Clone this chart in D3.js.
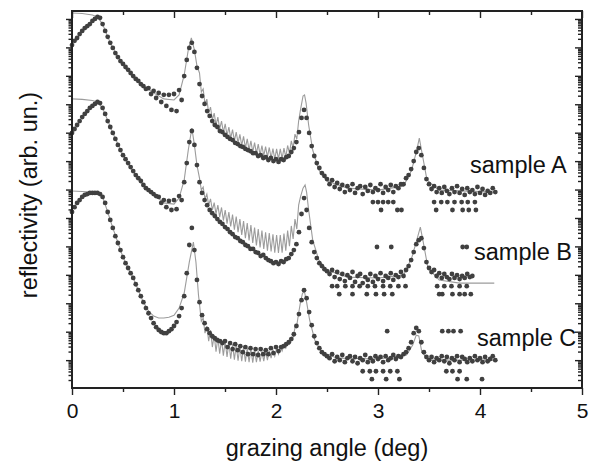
<!DOCTYPE html>
<html><head><meta charset="utf-8">
<script src="https://cdn.jsdelivr.net/npm/d3@7/dist/d3.min.js"></script>
<style>body{margin:0;background:#fff}svg{display:block}</style>
</head><body><svg id="chart" width="590" height="461"></svg>
<script>
// measured grazing angles (deg)
const angles = [0,.025,.05,.075,.1,.125,.15,.175,.2,.225,.25,.275,.3,.325,.35,.375,.4,.425,.45,.475,.5,.525,.55,.575,.6,.625,.65,.675,.7,.725,.75,.775,.8,.825,.85,.875,.9,.925,.95,.975,1,1.025,1.05,1.075,1.1,1.125,1.15,1.175,1.2,1.225,1.25,1.275,1.3,1.325,1.35,1.375,1.4,1.425,1.45,1.475,1.5,1.525,1.55,1.575,1.6,1.625,1.65,1.675,1.7,1.725,1.75,1.775,1.8,1.825,1.85,1.875,1.9,1.925,1.95,1.975,2,2.025,2.05,2.075,2.1,2.125,2.15,2.175,2.2,2.225,2.25,2.275,2.3,2.325,2.35,2.375,2.4,2.425,2.45,2.475,2.5,2.525,2.55,2.575,2.6,2.625,2.65,2.675,2.7,2.725,2.75,2.775,2.8,2.825,2.85,2.875,2.9,2.925,2.95,2.975,3,3.025,3.05,3.075,3.1,3.125,3.15,3.175,3.2,3.225,3.25,3.275,3.3,3.325,3.35,3.375,3.4,3.425,3.45,3.475,3.5,3.525,3.55,3.575,3.6,3.625,3.65,3.675,3.7,3.725,3.75,3.775,3.8,3.825,3.85,3.875,3.9,3.925,3.95,3.975,4,4.025,4.05,4.075,4.1,4.125,4.15];

// log10 reflectivity (offset curves, arb. un.)
const logRA = [-0.92,-0.77,-0.67,-0.53,-0.42,-0.32,-0.25,-0.18,-0.07,0,
0.07,0.04,-0.18,-0.42,-0.63,-0.84,-1.02,-1.20,-1.34,-1.48,
-1.58,-1.69,-1.79,-1.90,-2.01,-2.11,-2.18,-2.29,-2.36,-2.46,
-2.43,-2.64,-2.53,-2.78,-2.60,-2.92,-2.67,-3.06,-2.67,-3.20,
-2.64,-3.24,-2.50,-2.85,-2.01,-1.44,-1.02,-0.84,-1.16,-1.72,
-2.29,-2.71,-2.99,-3.24,-3.41,-3.59,-3.73,-3.80,-3.94,-3.98,
-4.08,-4.15,-4.22,-4.26,-4.36,-4.40,-4.47,-4.50,-4.57,-4.61,
-4.65,-4.72,-4.72,-4.82,-4.79,-4.89,-4.86,-4.96,-4.89,-5.00,
-4.93,-5.03,-4.93,-4.96,-4.86,-4.82,-4.68,-4.54,-4.33,-3.98,
-3.48,-3.20,-3.48,-4.01,-4.47,-4.82,-5.07,-5.24,-5.42,-5.52,
-5.63,
-5.81,-5.67,-5.91,-5.77,-5.98,-5.84,-6.09,-5.88,-6.02,-5.81,
-6.12,-5.95,-5.88,-6.16,-5.91,-6.05,-5.84,-6.09,-5.95,-6.02,
-5.81,-6.12,-5.91,-6.02,-5.84,-6.09,-5.88,-5.95,-5.81,-5.81,
-5.60,-5.49,-5.28,-5.00,-4.68,-4.54,-4.79,-5.24,-5.63,-5.81,
-5.98,-5.88,-6.09,-5.95,-6.12,-5.91,-6.05,-6.16,-5.95,-6.09,
-5.88,-6.12,-5.98,-6.19,-5.95,-6.09,-6.02,-6.16,-5.91,-6.12,
-5.98,-6.19,-6.05,-6.12,-5.95,-6.09];

const logRB = [-4.01,-3.87,-3.73,-3.59,-3.45,-3.34,-3.24,-3.13,-3.06,-2.99,
-2.92,-2.96,-3.13,-3.34,-3.59,-3.80,-4.01,-4.22,-4.43,-4.61,
-4.79,-4.93,-5.07,-5.21,-5.35,-5.49,-5.60,-5.70,-5.84,-5.95,
-6.02,-6.09,-6.16,-6.23,-6.26,-6.47,-6.37,-6.62,-6.40,-6.72,
-6.37,-6.69,-6.23,-6.37,-5.74,-5.07,-4.33,-3.94,-4.43,-5.14,
-5.74,-6.12,-6.37,-6.55,-6.72,-6.83,-6.93,-7.04,-7.14,-7.21,
-7.32,-7.39,-7.50,-7.57,-7.67,-7.71,-7.81,-7.85,-7.95,-7.99,
-8.09,-8.09,-8.20,-8.23,-8.34,-8.30,-8.41,-8.48,-8.52,-8.59,
-8.55,-8.62,-8.52,-8.55,-8.45,-8.41,-8.27,-8.13,-7.92,-7.50,
-6.86,-6.30,-6.72,-7.35,-7.85,-8.20,-8.41,-8.59,-8.69,-8.80,
-8.87,-8.97,-8.83,-9.08,-8.90,-9.15,-8.97,-9.22,-9.01,-9.11,
-8.90,-9.25,-9.04,-8.97,-9.29,-9.08,-9.18,-8.97,-9.25,-9.04,
-9.15,-8.94,-9.22,-9.04,-9.11,-8.94,-9.18,-9.01,-9.08,-8.90,
-9.04,-8.83,-8.69,-8.48,-8.20,-7.92,-7.78,-7.71,-8.06,-8.55,
-8.76,-8.90,-8.83,-9.04,-8.94,-9.11,-8.97,-9.08,-9.15,-8.97,
-9.11,-9.01,-9.15,-9.04,-9.11,-8.97,-9.08,-9.04];

const logRC = [-6.79,-6.62,-6.47,-6.37,-6.26,-6.19,-6.16,-6.12,-6.12,-6.12,
-6.12,-6.16,-6.26,-6.47,-6.79,-7.07,-7.35,-7.64,-7.88,-8.13,
-8.38,-8.59,-8.76,-8.94,-9.11,-9.33,-9.54,-9.75,-9.96,-10.17,
-10.35,-10.52,-10.70,-10.84,-10.94,-11.01,-11.05,-11.05,-10.98,-10.91,
-10.80,-10.66,-10.45,-10.17,-9.75,-8.94,-7.95,-7.35,-8.13,-9.18,
-9.96,-10.42,-10.70,-10.91,-11.05,-11.16,-11.23,-11.30,-11.33,-11.40,
-11.33,-11.54,-11.40,-11.61,-11.44,-11.65,-11.51,-11.72,-11.54,-11.79,
-11.58,-11.79,-11.61,-11.82,-11.61,-11.79,-11.65,-11.79,-11.58,-11.75,
-11.54,-11.68,-11.54,-11.51,-11.44,-11.37,-11.26,-11.09,-10.80,-10.38,
-9.89,-9.54,-9.82,-10.31,-10.77,-11.16,-11.40,-11.58,-11.72,-11.79,
-11.86,-11.93,-11.79,-12.04,-11.89,-12.00,-11.82,-12.07,-11.93,-11.86,
-12.04,-11.89,-12.11,-11.93,-12.00,-11.82,-12.07,-11.93,-12.04,-11.86,
-11.96,-11.89,-12.07,-11.86,-12.00,-11.93,-11.82,-11.96,-11.86,-11.89,
-11.79,-11.72,-11.58,-11.37,-11.05,-10.87,-10.98,-11.37,-11.72,-11.89,
-12.00,-11.89,-12.07,-11.93,-12.00,-11.86,-12.04,-11.89,-12.11,-11.93,
-12.00,-11.86,-12.07,-11.89,-11.96,-12.07,-11.93,-12.04,-11.86,-12.00,
-11.93,-12.07,-11.89,-12.04,-11.96,-11.86,-12.00];

// isolated low / high count points
const strayAngleA = [2.95,3.0,3.05,3.1,3.15,3.55,3.62,3.68,3.75,3.82,3.88,3.95,3.03,3.19,3.23,3.57,3.73,3.83,3.89,3.96];
const strayLogRA  = [-6.44,-6.44,-6.44,-6.44,-6.44,-6.44,-6.44,-6.44,-6.44,-6.44,-6.44,-6.44,-6.72,-6.72,-6.72,-6.72,-6.72,-6.72,-6.72,-6.72];
const strayAngleB = [2.55,2.6,2.68,2.75,2.82,2.9,2.97,3.05,3.12,3.2,3.27,3.58,3.65,3.72,3.8,3.87,2.62,2.75,2.89,2.98,3.06,3.14,3.6,3.63,3.73,3.8,3.85,3.91,2.99,3.13,3.83,3.87];
const strayLogRB  = [-9.40,-9.40,-9.40,-9.40,-9.40,-9.40,-9.40,-9.40,-9.40,-9.40,-9.40,-9.40,-9.40,-9.40,-9.40,-9.40,-9.68,-9.68,-9.68,-9.68,-9.68,-9.68,-9.68,-9.68,-9.68,-9.68,-9.68,-9.68,-8.02,-8.02,-8.02,-8.02];
const strayAngleC = [2.85,2.92,2.98,3.05,3.12,3.19,3.67,3.73,3.8,2.94,3.08,3.21,3.78,3.87,4.02,3.09,3.63,3.69,3.74,3.81];
const strayLogRC  = [-12.39,-12.39,-12.39,-12.39,-12.39,-12.39,-12.39,-12.39,-12.39,-12.67,-12.67,-12.67,-12.67,-12.67,-12.67,-10.98,-10.98,-10.98,-10.98,-10.98];

// simulated (fit) curves
const fringeAngles = [1.25,1.268,1.286,1.304,1.322,1.34,1.358,1.376,1.394,1.412,1.43,1.448,1.466,1.484,1.502,1.52,1.538,1.556,1.574,1.592,1.61,1.628,1.646,1.664,1.682,1.7,1.718,1.736,1.754,1.772,1.79,1.808,1.826,1.844,1.862,1.88,1.898,1.916,1.934,1.952,1.97,1.988,2.006,2.024,2.042,2.06,2.078,2.096,2.114,2.132,2.15,2.168,2.186,2.204,2.222];

const fitHeadAngleA = [0,0.1,0.2,0.25,0.3,0.35,0.4,0.5,0.6,0.7,0.8,0.9,1.0,1.05,1.1,1.14,1.17,1.2,1.225];
const fitHeadLogRA  = [0.21,0.19,0.14,0.07,-0.18,-0.63,-1.02,-1.58,-2.01,-2.36,-2.60,-2.81,-2.85,-2.67,-1.97,-1.09,-0.67,-1.09,-1.65];
const fitFringeLogRA = [-1.90,-2.57,-2.46,-2.99,-2.82,-3.31,-3.10,-3.55,-3.31,-3.73,
-3.45,-3.87,-3.59,-3.99,-3.69,-4.10,-3.80,-4.19,-3.89,-4.29,
-3.98,-4.36,-4.06,-4.45,-4.13,-4.54,-4.22,-4.61,-4.29,-4.68,
-4.35,-4.73,-4.40,-4.79,-4.45,-4.82,-4.49,-4.86,-4.52,-4.89,
-4.56,-4.93,-4.57,-4.93,-4.57,-4.91,-4.54,-4.86,-4.45,-4.73,
-4.29,-4.54,-4.05,-4.22,-3.59];
const fitTailAngleA = [2.24,2.265,2.28,2.295,2.32,2.36,2.42,2.5,2.7,3.0,3.25,3.33,3.38,3.405,3.43,3.48,3.6,4.15];
const fitTailLogRA  = [-3.20,-2.71,-2.67,-2.96,-3.73,-4.61,-5.31,-5.70,-5.95,-6.02,-5.88,-5.31,-4.61,-4.19,-4.68,-5.66,-6.02,-6.09];

const fitHeadAngleB = [0,0.1,0.2,0.25,0.3,0.4,0.5,0.6,0.7,0.8,0.9,1.0,1.05,1.1,1.14,1.175,1.2,1.225];
const fitHeadLogRB  = [-2.81,-2.83,-2.87,-2.92,-3.13,-4.01,-4.79,-5.35,-5.84,-6.16,-6.47,-6.51,-6.30,-5.66,-4.61,-3.84,-4.43,-5.14];
const fitFringeLogRB = [-5.60,-6.02,-5.91,-6.33,-6.16,-6.55,-6.33,-6.72,-6.46,-6.86,
-6.55,-6.97,-6.63,-7.09,-6.72,-7.20,-6.79,-7.30,-6.88,-7.41,
-6.95,-7.50,-7.04,-7.60,-7.11,-7.71,-7.18,-7.79,-7.25,-7.88,
-7.34,-7.97,-7.39,-8.04,-7.44,-8.09,-7.50,-8.15,-7.53,-8.18,
-7.57,-8.22,-7.60,-8.23,-7.60,-8.22,-7.55,-8.15,-7.44,-7.99,
-7.28,-7.74,-7.04,-7.39,-6.55];
const fitTailAngleB = [2.24,2.265,2.285,2.3,2.32,2.36,2.42,2.5,2.7,3.0,3.25,3.33,3.38,3.415,3.44,3.49,3.6,3.8,4.14];
const fitTailLogRB  = [-6.26,-5.95,-5.84,-6.09,-6.72,-7.78,-8.48,-8.83,-9.08,-9.11,-9.01,-8.41,-7.78,-7.32,-7.78,-8.76,-9.18,-9.29,-9.29];

const fitHeadAngleC = [0,0.1,0.2,0.25,0.3,0.35,0.4,0.5,0.6,0.7,0.75,0.8,0.85,0.9,0.95,1.0,1.05,1.1,1.15,1.19,1.215,1.24];
const fitHeadLogRC  = [-6.05,-6.07,-6.09,-6.12,-6.26,-6.79,-7.35,-8.38,-9.11,-9.96,-10.27,-10.45,-10.52,-10.52,-10.49,-10.42,-10.17,-9.64,-8.55,-7.85,-8.55,-9.71];
const fitFringeLogRC = [-10.03,-10.63,-10.52,-11.05,-10.80,-11.33,-10.94,-11.54,-11.12,-11.70,
-11.21,-11.77,-11.28,-11.84,-11.33,-11.89,-11.38,-11.95,-11.44,-11.98,
-11.47,-12.02,-11.51,-12.04,-11.54,-12.05,-11.58,-12.07,-11.61,-12.09,
-11.65,-12.07,-11.67,-12.05,-11.68,-12.04,-11.68,-12.00,-11.67,-11.93,
-11.63,-11.86,-11.60,-11.79,-11.54,-11.68,-11.47,-11.58,-11.37,-11.44,
-11.19,-11.19,-10.87,-10.77,-10.35];
const fitTailAngleC = [2.24,2.26,2.28,2.3,2.33,2.38,2.45,2.6,3.0,3.28,3.34,3.375,3.4,3.43,3.5,4.15];
const fitTailLogRC  = [-9.96,-9.64,-9.61,-9.96,-10.59,-11.29,-11.72,-11.93,-11.96,-11.82,-11.47,-11.12,-11.15,-11.72,-12.00,-12.00];

const sampleLabels = ["sample A","sample B","sample C"];
const xTickLabels = [0,1,2,3,4,5];

// ---------- drawing ----------
const FONT = "'Liberation Sans', Arial, Helvetica, sans-serif";
const svg = d3.select("#chart");
const L = 72, R = 582, T = 11, B = 388;
const x = d3.scaleLinear().domain([0,5]).range([L,R]);
const y = d3.scaleLog().domain([Math.pow(10,-12.98), Math.pow(10,0.28)]).range([B,T]);
const pw = e => Math.pow(10, e);

const zip = (xs, ys) => ys.map((v,i) => [xs[i], v]);
const series = [
  {pts: zip(angles, logRA), stray: zip(strayAngleA, strayLogRA),
   fit: zip(fitHeadAngleA, fitHeadLogRA).concat(zip(fringeAngles, fitFringeLogRA), zip(fitTailAngleA, fitTailLogRA))},
  {pts: zip(angles, logRB), stray: zip(strayAngleB, strayLogRB),
   fit: zip(fitHeadAngleB, fitHeadLogRB).concat(zip(fringeAngles, fitFringeLogRB), zip(fitTailAngleB, fitTailLogRB))},
  {pts: zip(angles, logRC), stray: zip(strayAngleC, strayLogRC),
   fit: zip(fitHeadAngleC, fitHeadLogRC).concat(zip(fringeAngles, fitFringeLogRC), zip(fitTailAngleC, fitTailLogRC))}
];

const line = d3.line().x(d => x(d[0])).y(d => y(pw(d[1])));
const plot = svg.append("g");
series.forEach(s => {
  plot.append("path").attr("d", line(s.fit)).attr("fill","none")
    .attr("stroke","#9c9c9c").attr("stroke-width",1.1);
});
series.forEach(s => {
  plot.selectAll(null).data(s.pts.concat(s.stray)).enter().append("circle")
    .attr("cx", d => x(d[0])).attr("cy", d => y(pw(d[1]))).attr("r", 2.4)
    .attr("fill","#404040");
});

// axes
const majorY = d3.range(-12, 1).map(pw);
const minorY = [];
for (let p = -13; p <= 0; p++) for (let k = 2; k <= 9; k++) {
  const v = k * Math.pow(10, p);
  if (v > y.domain()[0] && v < y.domain()[1]) minorY.push(v);
}
const majorX = xTickLabels, minorX = [0.5,1.5,2.5,3.5,4.5];

function styleAxis(g){
  g.select(".domain").remove();
  g.selectAll(".tick line").attr("stroke","#222").attr("stroke-width",1.4);
}
svg.append("g").attr("transform",`translate(${L},0)`).call(d3.axisLeft(y).tickValues(majorY).tickSize(6).tickFormat("")).call(styleAxis);
svg.append("g").attr("transform",`translate(${L},0)`).call(d3.axisLeft(y).tickValues(minorY).tickSize(3.5).tickFormat("")).call(styleAxis);
svg.append("g").attr("transform",`translate(${R},0)`).call(d3.axisRight(y).tickValues(majorY).tickSize(-7).tickFormat("")).call(styleAxis);
svg.append("g").attr("transform",`translate(${R},0)`).call(d3.axisRight(y).tickValues(minorY).tickSize(-4).tickFormat("")).call(styleAxis);
svg.append("g").attr("transform",`translate(0,${T})`).call(d3.axisTop(x).tickValues(majorX).tickSize(-7).tickFormat("")).call(styleAxis);
svg.append("g").attr("transform",`translate(0,${T})`).call(d3.axisTop(x).tickValues(minorX).tickSize(-4).tickFormat("")).call(styleAxis);
svg.append("g").attr("transform",`translate(0,${B})`).call(d3.axisBottom(x).tickValues(minorX).tickSize(4).tickFormat("")).call(styleAxis);
const xb = svg.append("g").attr("transform",`translate(0,${B})`)
  .call(d3.axisBottom(x).tickValues(majorX).tickSize(7).tickPadding(8).tickFormat(d3.format("d"))).call(styleAxis);
xb.selectAll("text").attr("font-family",FONT).attr("font-size",21).attr("fill","#111");

svg.append("rect").attr("x",L).attr("y",T).attr("width",R-L).attr("height",B-T)
  .attr("fill","none").attr("stroke","#222").attr("stroke-width",2);

// titles
svg.append("text").attr("x",(L+R)/2).attr("y",456).attr("text-anchor","middle")
  .attr("font-family",FONT).attr("font-size",23.5).attr("fill","#111").text("grazing angle (deg)");
svg.append("text").attr("transform","translate(37,195) rotate(-90)").attr("text-anchor","middle")
  .attr("font-family",FONT).attr("font-size",23.5).attr("fill","#111").text("reflectivity (arb. un.)");

const labelPos = [[470,173],[474,260],[477,346]];
sampleLabels.forEach((t,i) => {
  svg.append("text").attr("x",labelPos[i][0]).attr("y",labelPos[i][1])
    .attr("font-family",FONT).attr("font-size",23.5).attr("fill","#111").text(t);
});
</script></body></html>
